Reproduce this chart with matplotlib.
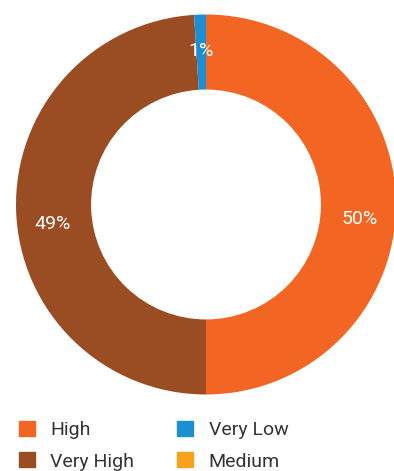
import matplotlib.pyplot as plt
import matplotlib.patches as mpatches
import numpy as np

labels = ["High", "Very High", "Very Low", "Medium"]
values = [50, 49, 1, 0]
colors = ["#f26522", "#9a4c22", "#1b8fd2", "#f7a21b"]

W, H = 394, 471
fig = plt.figure(figsize=(W / 100, H / 100), dpi=100)
plt.rcParams['font.family'] = ['Roboto', 'DejaVu Sans']

# donut centre (206, 204.5) px from top-left, outer radius 190 px
cx, cy, r = 206, 204.5, 190
ax = fig.add_axes([(cx - r) / W, (H - cy - r) / H, 2 * r / W, 2 * r / H])
wedges, _ = ax.pie(values, colors=colors, startangle=90, counterclock=False,
                   radius=1, wedgeprops=dict(width=0.395, linewidth=0))
for w in wedges:
    w.set_clip_on(False)
ax.set_xlim(-1, 1)
ax.set_ylim(-1, 1)
ax.set_aspect('equal')
ax.axis('off')

total = sum(values)
for w, v in zip(wedges, values):
    if v == 0:
        continue
    ang = np.deg2rad((w.theta1 + w.theta2) / 2)
    rr = 0.81
    dy = -0.075 if abs(np.sin(ang)) < 0.5 else 0
    ax.text(rr * np.cos(ang), rr * np.sin(ang) + dy, f"{v / total * 100:.0f}%",
            ha='center', va='center', color='white', fontsize=14)

handles = [mpatches.Patch(color=c, label=l) for c, l in zip(colors, labels)]
fig.legend(handles=handles, ncol=2, frameon=False, loc='upper left',
           bbox_to_anchor=(19 / W, 1 - 421 / H), borderaxespad=0, borderpad=0,
           fontsize=14, handlelength=0.83, handleheight=0.83, handletextpad=0.78,
           labelspacing=0.66, columnspacing=2.22, labelcolor='#333333')

fig.savefig("out.png", dpi=100)
